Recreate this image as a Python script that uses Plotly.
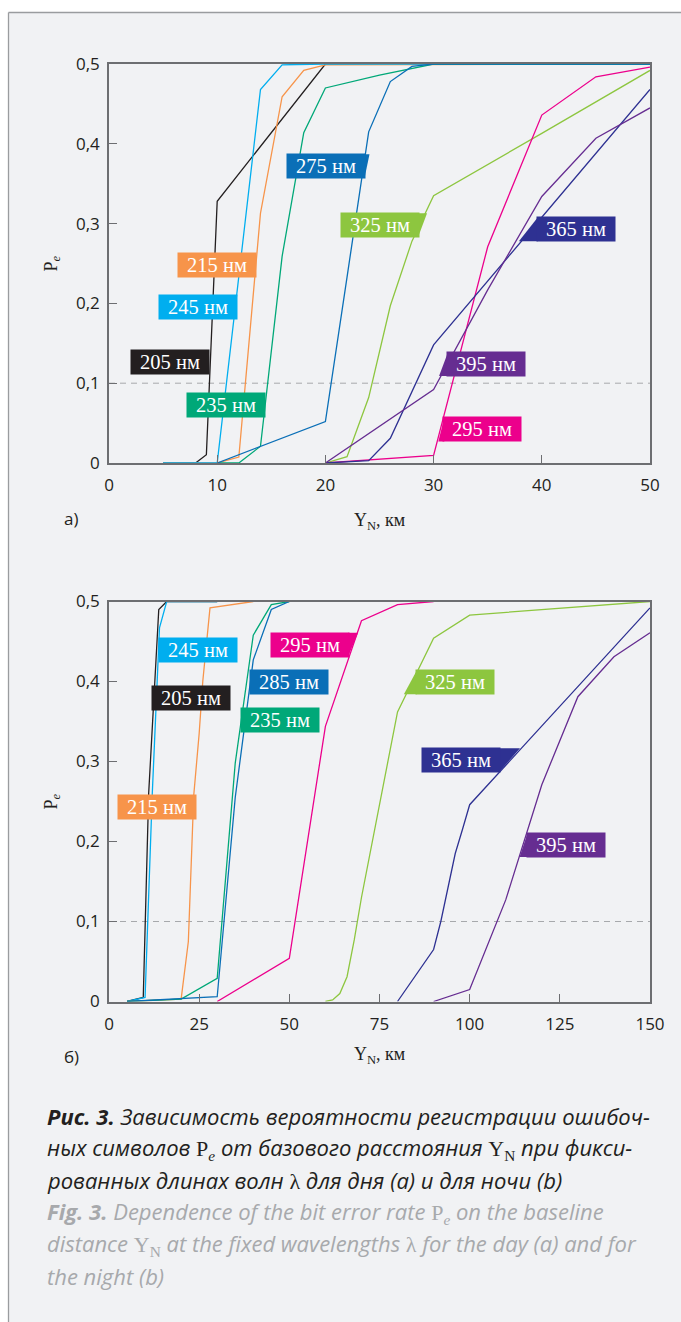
import plotly.graph_objects as go

# ---------------- data: day (a) ----------------
day_x = {
    "205": [5, 8, 9, 10, 20, 50],
    "215": [5, 10, 12, 14, 16, 18, 20, 50],
    "245": [5, 10, 14, 16, 20, 50],
    "235": [10, 12, 14, 16, 18, 20, 25, 30, 50],
    "275": [10, 20, 22, 24, 26, 28, 30, 50],
    "325": [20, 22, 24, 26, 28, 30, 40, 50],
    "295": [20, 30, 35, 40, 45, 50],
    "365": [20, 24, 26, 30, 40, 50],
    "395": [20, 30, 35, 40, 45, 50],
}
day_y = {
    "205": [0, 0, 0.0104, 0.328, 0.5, 0.5],
    "215": [0, 0, 0.0075, 0.313, 0.459, 0.492, 0.499, 0.5],
    "245": [0, 0, 0.468, 0.499, 0.5, 0.5],
    "235": [0, 0, 0.021, 0.259, 0.414, 0.47, 0.486, 0.5, 0.5],
    "275": [0, 0.052, 0.233, 0.415, 0.478, 0.497, 0.5, 0.5],
    "325": [0, 0.008, 0.082, 0.197, 0.278, 0.335, 0.413, 0.492],
    "295": [0, 0.0095, 0.271, 0.436, 0.484, 0.496],
    "365": [0, 0.003, 0.031, 0.148, 0.308, 0.468],
    "395": [0, 0.092, 0.217, 0.334, 0.407, 0.445],
}

# ---------------- data: night (b) ----------------
night_x = {
    "205": [5, 9.5, 11, 13, 13.8, 16, 30],
    "245": [5, 10, 12, 14, 16, 30],
    "215": [5, 20, 22, 23.5, 25, 26, 28, 40],
    "235": [5, 20, 30, 35, 40, 45, 50],
    "285": [5, 30, 35, 40, 45, 50],
    "295": [30, 50, 60, 70, 80, 90],
    "325": [60, 62, 64, 66, 68, 70, 80, 90, 100, 150],
    "365": [80, 90, 92, 94, 96, 98, 100, 150],
    "395": [90, 100, 110, 120, 130, 140, 150],
}
night_y = {
    "205": [0, 0.005, 0.26, 0.425, 0.49, 0.5, 0.5],
    "245": [0, 0.005, 0.26, 0.467, 0.5, 0.5],
    "215": [0, 0.003, 0.075, 0.258, 0.335, 0.4, 0.492, 0.5],
    "235": [0, 0.003, 0.029, 0.298, 0.458, 0.496, 0.5],
    "285": [0, 0.006, 0.255, 0.427, 0.49, 0.5],
    "295": [0, 0.054, 0.344, 0.476, 0.496, 0.5],
    "325": [0, 0.002, 0.01, 0.031, 0.077, 0.13, 0.362, 0.454, 0.483, 0.5],
    "365": [0, 0.065, 0.1, 0.144, 0.185, 0.215, 0.246, 0.492],
    "395": [0, 0.015, 0.127, 0.271, 0.381, 0.431, 0.461],
}

colors = {
    "205": "#231f20", "215": "#f7944a", "245": "#00aeef", "235": "#00a878",
    "275": "#0a6fb7", "285": "#0a6fb7", "325": "#8dc63f", "295": "#ec008c",
    "365": "#2e3192", "395": "#662d91",
}

# label anchor positions (centre of box) in data coords
day_labels = {"275": (20.1, 0.372), "215": (9.94, 0.248), "245": (8.2, 0.196),
              "205": (5.67, 0.127), "235": (10.83, 0.073), "325": (25.05, 0.298),
              "365": (43.15, 0.293), "395": (34.85, 0.124), "295": (34.5, 0.042)}
night_labels = {"245": (24.7, 0.44), "205": (22.6, 0.38), "215": (13.4, 0.243),
                "295": (55.75, 0.446), "285": (49.9, 0.399), "235": (47.4, 0.352),
                "325": (95.9, 0.399), "365": (97.6, 0.3015), "395": (126.6, 0.1955)}
# slanted tab that joins a label box to its curve: (side, extra width in px)
day_tabs = {"325": ("right", 8), "365": ("left", 18), "395": ("left", 8), "295": ("left", 5),
            "275": ("right", 4)}
night_tabs = {"295": ("right", 9), "325": ("left", 12), "365": ("right", 20), "395": ("left", 7)}

y_tickvals = [0, 0.1, 0.2, 0.3, 0.4, 0.5]
y_ticktext = ["0", "0,1", "0,2", "0,3", "0,4", "0,5"]
x_tickvals_day = [0, 10, 20, 30, 40, 50]
x_tickvals_night = [0, 25, 50, 75, 100, 125, 150]

W, H = 681, 1322
PX0, PX1 = 109, 650
TOP_A, BOT_A = 64, 463
TOP_B, BOT_B = 601.5, 1001.5
BOX_W, BOX_H = 78, 24

fig = go.Figure()
for k in day_x:
    fig.add_trace(go.Scatter(x=day_x[k], y=day_y[k], mode="lines",
                             line=dict(color=colors[k], width=1.3),
                             xaxis="x", yaxis="y", showlegend=False))
for k in night_x:
    fig.add_trace(go.Scatter(x=night_x[k], y=night_y[k], mode="lines",
                             line=dict(color=colors[k], width=1.3),
                             xaxis="x2", yaxis="y2", showlegend=False))

axis_common = dict(showgrid=False, zeroline=False, showline=True, linecolor="#6d6e71",
                   linewidth=1.5, mirror=True, ticks="inside", ticklen=8,
                   tickcolor="#6d6e71", tickwidth=1.2, automargin=False,
                   tickfont=dict(family="Open Sans", size=17, color="#231f20"))

fig.update_layout(
    width=W, height=H, margin=dict(l=0, r=0, t=0, b=0, pad=0), autosize=False,
    paper_bgcolor="white", plot_bgcolor="rgba(0,0,0,0)",
    xaxis=dict(domain=[PX0 / W, PX1 / W], range=[0, 50], tickvals=x_tickvals_day,
               ticktext=[str(v) for v in x_tickvals_day], anchor="y",
               ticklabelstandoff=6, **axis_common),
    yaxis=dict(domain=[1 - BOT_A / H, 1 - TOP_A / H], range=[0, 0.5], tickvals=y_tickvals,
               ticktext=y_ticktext, anchor="x", ticklabelstandoff=4, **axis_common),
    xaxis2=dict(domain=[PX0 / W, PX1 / W], range=[0, 150], tickvals=x_tickvals_night,
                ticktext=[str(v) for v in x_tickvals_night], anchor="y2",
                ticklabelstandoff=6, **axis_common),
    yaxis2=dict(domain=[1 - BOT_B / H, 1 - TOP_B / H], range=[0, 0.5], tickvals=y_tickvals,
                ticktext=y_ticktext, anchor="x2", ticklabelstandoff=4, **axis_common),
)

frame_col = "#9a9c9f"
shapes = [
    dict(type="rect", xref="paper", yref="paper", x0=8.5 / W, x1=1, y0=0,
         y1=1 - 12.5 / H, fillcolor="#f1f2f4", line=dict(width=0), layer="below"),
    dict(type="line", xref="paper", yref="paper", x0=8.5 / W, x1=1, y0=1 - 12.5 / H,
         y1=1 - 12.5 / H, line=dict(color=frame_col, width=1.3), layer="below"),
    dict(type="line", xref="paper", yref="paper", x0=8.5 / W, x1=8.5 / W, y0=0,
         y1=1 - 12.5 / H, line=dict(color=frame_col, width=1.3), layer="below"),
    dict(type="line", xref="x domain", yref="y", x0=0, x1=1, y0=0.1, y1=0.1,
         line=dict(color="#a7a9ac", width=1, dash="6px,5px"), layer="below"),
    dict(type="line", xref="x2 domain", yref="y2", x0=0, x1=1, y0=0.1, y1=0.1,
         line=dict(color="#a7a9ac", width=1, dash="6px,5px"), layer="below"),
]


def to_px(pos, xmax, top, bot):
    px = PX0 + pos[0] / xmax * (PX1 - PX0)
    py = bot - pos[1] / 0.5 * (bot - top)
    return px, py


def tab_shape(k, pos, tab, xmax, top, bot):
    cx, cy = to_px(pos, xmax, top, bot)
    L, R = cx - BOX_W / 2, cx + BOX_W / 2
    T, B = cy - BOX_H / 2, cy + BOX_H / 2
    side, ext = tab
    if side == "right":
        pts = [(R - 1, T), (R + ext, T), (R - 1, B)]
    else:
        pts = [(L + 1, T), (L + 1, B), (L - ext, B)]
    path = "M " + " L ".join(f"{x / W:.5f},{1 - y / H:.5f}" for x, y in pts) + " Z"
    return dict(type="path", xref="paper", yref="paper", path=path,
                fillcolor=colors[k], line=dict(width=0), layer="above")


for k, t in day_tabs.items():
    shapes.append(tab_shape(k, day_labels[k], t, 50, TOP_A, BOT_A))
for k, t in night_tabs.items():
    shapes.append(tab_shape(k, night_labels[k], t, 150, TOP_B, BOT_B))

ann = []
def label(k, pos, xr, yr):
    ann.append(dict(x=pos[0], y=pos[1], xref=xr, yref=yr, text=f"{k} нм",
                    showarrow=False, font=dict(family="Liberation Serif", size=20.5, color="white"),
                    bgcolor=colors[k], width=BOX_W - 4, height=BOX_H - 4, borderpad=2,
                    xanchor="center", yanchor="middle"))

for k, p in day_labels.items():
    label(k, p, "x", "y")
for k, p in night_labels.items():
    label(k, p, "x2", "y2")

serif = "Liberation Serif"
for (ymid, xt) in [((TOP_A + BOT_A) / 2, 521), ((TOP_B + BOT_B) / 2, 1055)]:
    ann.append(dict(x=52 / W, y=1 - ymid / H, xref="paper", yref="paper",
                    text="P<sub><i>e</i></sub>", textangle=-90, showarrow=False,
                    font=dict(family=serif, size=18, color="#231f20"),
                    xanchor="center", yanchor="middle"))
    ann.append(dict(x=(PX0 + PX1) / 2 / W, y=1 - xt / H, xref="paper", yref="paper",
                    text="Y<sub>N</sub>, км", showarrow=False,
                    font=dict(family=serif, size=18, color="#231f20"),
                    xanchor="center", yanchor="middle"))
ann.append(dict(x=62 / W, y=1 - 518 / H, xref="paper", yref="paper", text="а)",
                showarrow=False, font=dict(family="Open Sans", size=17, color="#231f20"),
                xanchor="left", yanchor="middle"))
ann.append(dict(x=62 / W, y=1 - 1056 / H, xref="paper", yref="paper", text="б)",
                showarrow=False, font=dict(family="Open Sans", size=17, color="#231f20"),
                xanchor="left", yanchor="middle"))

sp = "<span style='font-family:Liberation Serif;font-style:normal'>"
Pe = sp + "P<sub><i>e</i></sub></span>"
YN = sp + "Y<sub>N</sub></span>"
lam = sp + "λ</span>"
caption_ru = [
    "<b><i>Рис. 3.</i></b><i> Зависимость вероятности регистрации ошибоч-</i>",
    "<i>ных символов </i>" + Pe + "<i> от базового расстояния </i>" + YN + "<i> при фикси-</i>",
    "<i>рованных длинах волн </i>" + lam + "<i> для дня (a) и для ночи (b)</i>",
]
caption_en = [
    "<b><i>Fig. 3.</i></b><i> Dependence of the bit error rate </i>" + Pe + "<i> on the baseline</i>",
    "<i>distance </i>" + YN + "<i> at the fixed wavelengths </i>" + lam + "<i> for the day (a) and for</i>",
    "<i>the night (b)</i>",
]
for i, t in enumerate(caption_ru + caption_en):
    col = "#231f20" if i < 3 else "#a7a9ac"
    ann.append(dict(x=45 / W, y=1 - (1116 + 32 * i) / H, xref="paper", yref="paper",
                    text=t, showarrow=False, xanchor="left", yanchor="middle",
                    font=dict(family="Open Sans", size=22, color=col)))

fig.update_layout(shapes=shapes, annotations=ann)
fig.write_html("out.html", config={"displayModeBar": False},
               post_script="document.body.style.margin='0';document.body.style.overflow='hidden';")
